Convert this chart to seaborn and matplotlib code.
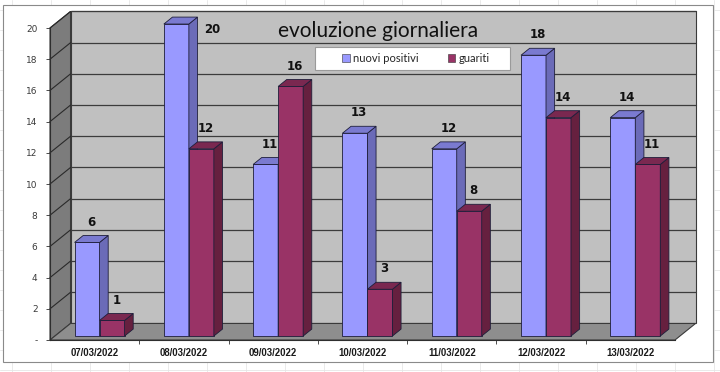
import numpy as np
import pandas as pd
import matplotlib
matplotlib.use("Agg")
import matplotlib.pyplot as plt
import seaborn as sns
from matplotlib.patches import Polygon, Rectangle, Patch
from matplotlib.lines import Line2D

# dati
date = ['07/03/2022', '08/03/2022', '09/03/2022', '10/03/2022',
        '11/03/2022', '12/03/2022', '13/03/2022']
nuovi_positivi = [6, 20, 11, 13, 12, 18, 14]
guariti = [1, 12, 16, 3, 8, 14, 11]
serie = ['nuovi positivi', 'guariti']
y_ticks = list(range(0, 21, 2))
y_labels = ['-'] + [str(v) for v in y_ticks[1:]]

df = pd.DataFrame({
    'data': date * 2,
    'serie': [serie[0]] * len(date) + [serie[1]] * len(date),
    'valore': nuovi_positivi + guariti,
})

colori = {'nuovi positivi': '#9999ff', 'guariti': '#993366'}
lato = {'#9999ff': '#6b6bb8', '#993366': '#66203f'}
cima = {'#9999ff': '#7a7ad0', '#993366': '#7a2850'}

sns.set_theme(style='white')
plt.rcParams['font.family'] = ['DejaVu Sans']

W, H = 720, 372
fig = plt.figure(figsize=(7.2, 3.72), dpi=100)
fig.patch.set_facecolor('white')

# griglia del foglio di calcolo (margini)
for x in np.arange(12, W, 39):
    fig.add_artist(Line2D([x / W] * 2, [0, 1], color='#E6E6E6', lw=0.6, zorder=-3))
for y in np.arange(2, H, 20):
    fig.add_artist(Line2D([0, 1], [y / H] * 2, color='#E6E6E6', lw=0.6, zorder=-3))
fig.add_artist(Rectangle((3 / W, 1 - 362 / H), 710 / W, 357 / H,
                         transform=fig.transFigure, facecolor='white',
                         edgecolor='#8A8A8A', lw=0.8, zorder=-2))

ax = fig.add_axes([50 / W, 32 / H, 625 / W, 312 / H])
ax.set_facecolor('none')

sns.barplot(data=df, x='data', y='valore', hue='serie', palette=colori,
            width=0.56, saturation=1, errorbar=None, legend=False,
            edgecolor='#1E1E3A', linewidth=0.6, ax=ax)
bars = list(ax.patches)

n = len(date)
ax.set_xlim(-0.5, n - 0.5)
ax.set_ylim(0, 20)

# profondità 3D
DX, DY = 0.23, 1.06
f0, f1 = 0.24, 0.66

x0, x1 = -0.5, n - 0.5
ax.add_patch(Rectangle((x0 + DX, DY), n, 20, facecolor='#C0C0C0',
                       edgecolor='#3A3A3A', lw=0.8, zorder=0.5, clip_on=False))
ax.add_patch(Polygon([(x0, 0), (x0 + DX, DY), (x0 + DX, 20 + DY), (x0, 20)],
                     closed=True, facecolor='#7C7C7C', edgecolor='#3A3A3A',
                     lw=0.8, zorder=0.6, clip_on=False))
ax.add_patch(Polygon([(x0, 0), (x1, 0), (x1 + DX, DY), (x0 + DX, DY)],
                     closed=True, facecolor='#8E8E8E', edgecolor='#3A3A3A',
                     lw=0.8, zorder=0.6, clip_on=False))
for v in y_ticks[1:]:
    ax.plot([x0 + DX, x1 + DX], [v + DY, v + DY], color='#3C3C3C', lw=0.9,
            zorder=0.7, clip_on=False)
    ax.plot([x0, x0 + DX], [v, v + DY], color='#2A2A2A', lw=0.8,
            zorder=0.7, clip_on=False)

# barre 3D
order = sorted(range(len(bars)), key=lambda i: bars[i].get_x())
for rank, i in enumerate(order):
    b = bars[i]
    x, w, h = b.get_x(), b.get_width(), b.get_height()
    fc = matplotlib.colors.to_hex(b.get_facecolor())
    z = 3 + rank * 0.01
    b.set_x(x + f0 * DX)
    b.set_y(f0 * DY)
    b.set_zorder(z)
    b.set_clip_on(False)
    xa = x + f0 * DX
    ya = f0 * DY
    ddx, ddy = (f1 - f0) * DX, (f1 - f0) * DY
    top = ya + h
    ax.add_patch(Polygon([(xa + w, ya), (xa + w + ddx, ya + ddy),
                          (xa + w + ddx, top + ddy), (xa + w, top)],
                         closed=True, facecolor=lato[fc], edgecolor='#1E1E3A',
                         lw=0.6, zorder=z + 0.001, clip_on=False))
    ax.add_patch(Polygon([(xa, top), (xa + w, top), (xa + w + ddx, top + ddy),
                          (xa + ddx, top + ddy)],
                         closed=True, facecolor=cima[fc], edgecolor='#1E1E3A',
                         lw=0.6, zorder=z + 0.002, clip_on=False))
    if h >= 20:
        ax.annotate(f'{h:.0f}', (xa + w + ddx, top), xytext=(5, -4),
                    textcoords='offset points', ha='left', va='center',
                    fontsize=8.5, fontweight='bold', color='#111111',
                    zorder=10, annotation_clip=False)
    else:
        ax.annotate(f'{h:.0f}', (xa + w / 2 + ddx / 2, top + ddy),
                    xytext=(0, 5), textcoords='offset points', ha='center',
                    va='bottom', fontsize=8.5, fontweight='bold',
                    color='#111111', zorder=10, annotation_clip=False)

# assi
for s in ['top', 'right']:
    ax.spines[s].set_visible(False)
ax.spines['left'].set_color('#2E2E2E')
ax.spines['bottom'].set_color('#2E2E2E')
ax.spines['left'].set_linewidth(0.8)
ax.spines['bottom'].set_linewidth(0.8)
ax.set_yticks(y_ticks)
ax.set_yticklabels(y_labels, fontsize=6.5, color='#3A3A3A')
ax.set_xticks(range(n))
ax.set_xticklabels(date, fontsize=6.9, color='#1A1A1A', fontweight='bold',
                   family=['Liberation Sans', 'DejaVu Sans'])
ax.set_xticks(np.arange(0.5, n - 1, 1), minor=True)
ax.tick_params(axis='x', which='major', length=0, pad=6)
ax.tick_params(axis='x', which='minor', length=3, width=0.6, color='#2E2E2E',
               direction='out', bottom=True)
ax.tick_params(axis='y', length=3, width=0.6, color='#2E2E2E',
               direction='out', left=True, pad=6)
ax.set_xlabel('')
ax.set_ylabel('')

# titolo e legenda
fig.text(378 / W, 1 - 31 / H, 'evoluzione giornaliera', ha='center',
         va='center', fontsize=15, family=['Lato', 'DejaVu Sans'],
         color='#111111')
fig.add_artist(Rectangle((315 / W, 1 - 70 / H), 195 / W, 23 / H,
                         transform=fig.transFigure, facecolor='white',
                         edgecolor='#9A9A9A', lw=0.8, zorder=4))
handles = [Patch(facecolor=colori[s], edgecolor='#333333', lw=0.4) for s in serie]
leg = fig.legend(handles, serie, ncol=2, loc='center',
                 bbox_to_anchor=(416 / W, 1 - 58.5 / H), frameon=False,
                 prop={'family': ['Lato', 'DejaVu Sans'], 'size': 8},
                 handlelength=0.7, handleheight=0.7, handletextpad=0.3,
                 borderpad=0.2, columnspacing=2.6)
leg.set_zorder(5)

fig.savefig('out.png', dpi=100)
